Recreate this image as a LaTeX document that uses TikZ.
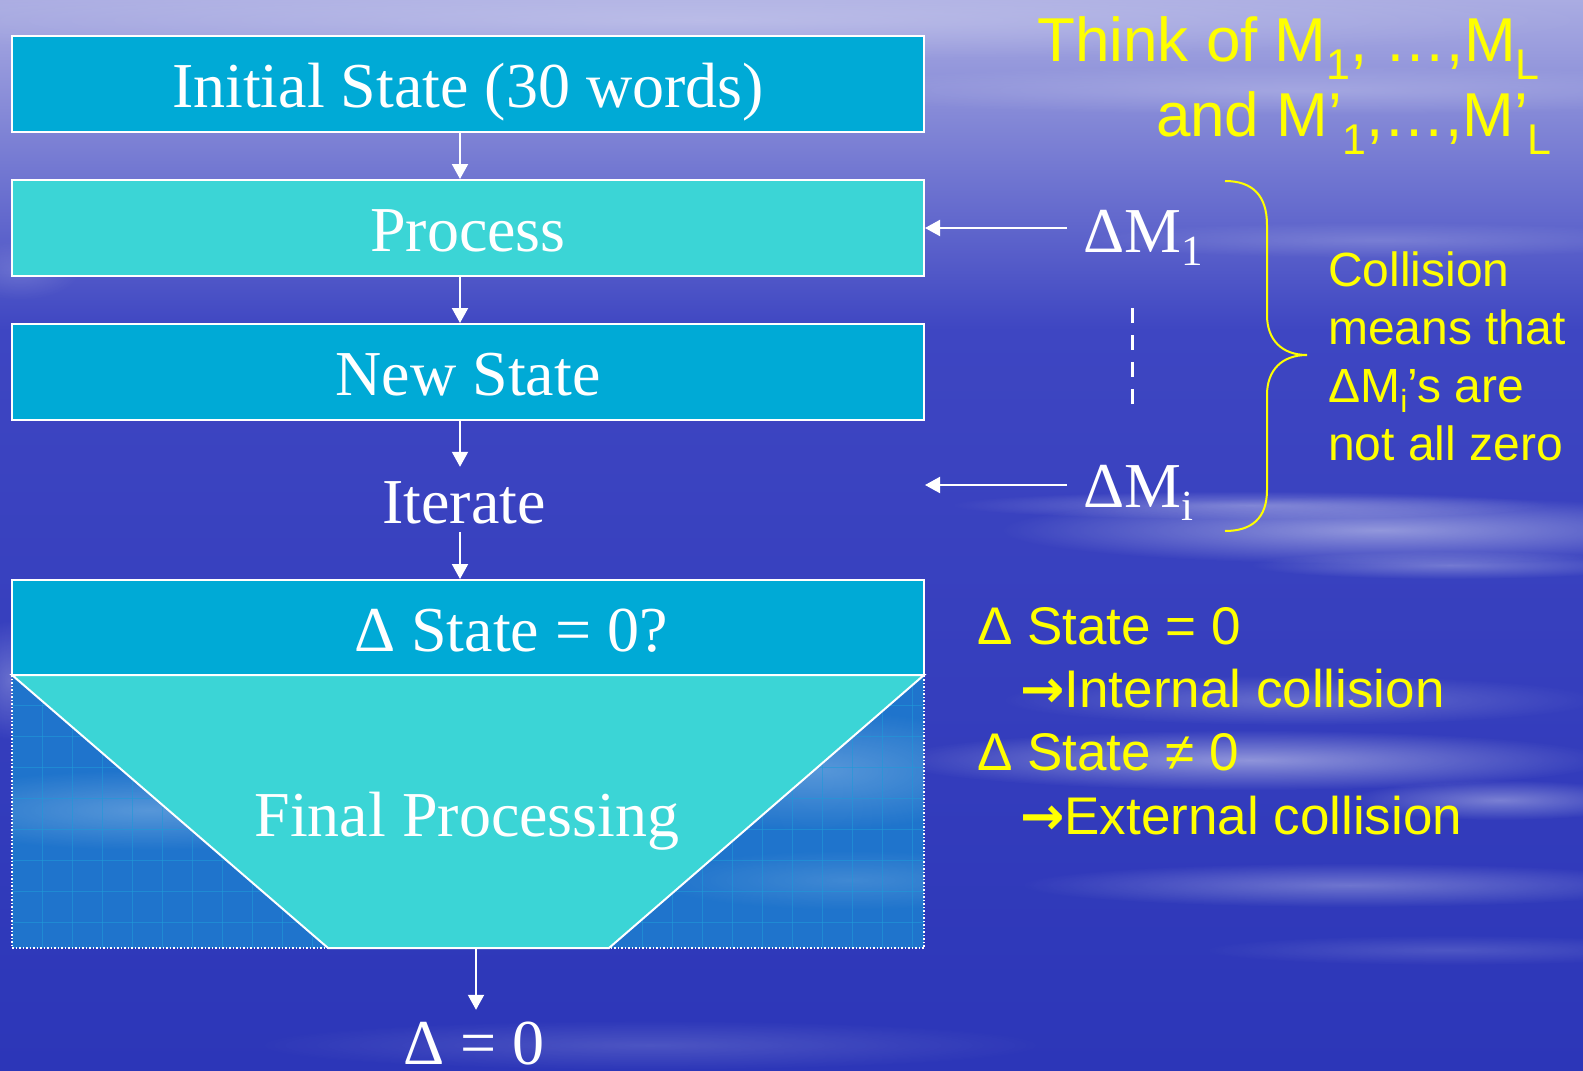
\documentclass[tikz,border=0pt]{standalone}
\usepackage{fontspec}
\setmainfont{Liberation Serif}
\newfontfamily\ysans{Liberation Sans}
\newfontfamily\dvs{DejaVu Sans Bold}
\usetikzlibrary{arrows.meta,fadings,calc}
\definecolor{bgA}{HTML}{AAACE2}
\definecolor{bgB}{HTML}{5A60CC}
\definecolor{bgC}{HTML}{3E46C2}
\definecolor{bgD}{HTML}{2C36B8}
\definecolor{boxdark}{HTML}{00AAD6}
\definecolor{boxlight}{HTML}{3BD5D6}
\definecolor{gridbg}{HTML}{1F74CC}
\definecolor{gridln}{HTML}{1F9AD8}
\definecolor{yel}{HTML}{FFFF00}
\tikzfading[name=fuzzy, inner color=transparent!0, outer color=transparent!100]
\newcommand\ssub[2]{\raisebox{-#2}{\fontsize{43}{43}\selectfont #1}}
\newcommand\csub[1]{\raisebox{-10pt}{\fontsize{32}{32}\selectfont #1}}
\tikzset{
  box/.style={draw=white, line width=2pt, minimum width=912pt, minimum height=96pt,
    inner sep=0pt, text=white, font=\fontsize{64}{64}\selectfont,
    text height=47pt, text depth=0pt},
  wtext/.style={text=white, font=\fontsize{64}{64}\selectfont, inner sep=0pt},
  arr/.style={draw=white, line width=2pt, -{Triangle[width=16pt,length=15pt]}},
  ytext/.style={text=yel, inner sep=0pt, anchor=base west},
  cloud/.style={fill=white, path fading=fuzzy}
}
\begin{document}
\begin{tikzpicture}[x=1pt,y=-1pt]
\useasboundingbox (0,0) rectangle (1583,1071);
% background
\shade[top color=bgA, bottom color=bgC] (0,0) rectangle (1583,330);
\shade[top color=bgC, bottom color=bgD] (0,329) rectangle (1583,1071);
\fill[cloud, opacity=0.25] (700,20) ellipse [x radius=900pt, y radius=40pt];
\fill[cloud, opacity=0.20] (1300,90) ellipse [x radius=500pt, y radius=25pt];
\fill[cloud, opacity=0.18] (1380,240) ellipse [x radius=300pt, y radius=18pt];
\fill[cloud, opacity=0.15] (20,270) ellipse [x radius=60pt, y radius=30pt];
\fill[cloud, opacity=0.45] (1380,530) ellipse [x radius=380pt, y radius=34pt];
\fill[cloud, opacity=0.30] (1250,505) ellipse [x radius=300pt, y radius=14pt];
\fill[cloud, opacity=0.30] (1450,565) ellipse [x radius=200pt, y radius=14pt];
\fill[cloud, opacity=0.25] (1300,700) ellipse [x radius=300pt, y radius=25pt];
\fill[cloud, opacity=0.45] (1250,760) ellipse [x radius=360pt, y radius=30pt];
\fill[cloud, opacity=0.35] (1500,800) ellipse [x radius=150pt, y radius=20pt];
\fill[cloud, opacity=0.30] (1350,885) ellipse [x radius=330pt, y radius=22pt];
\fill[cloud, opacity=0.15] (1450,950) ellipse [x radius=250pt, y radius=15pt];
\fill[cloud, opacity=0.15] (650,1045) ellipse [x radius=400pt, y radius=25pt];
\fill[cloud, opacity=0.25] (10,680) ellipse [x radius=40pt, y radius=60pt];
% grid region behind trapezoid
\begin{scope}
\clip (12,675) rectangle (924,948);
\fill[gridbg] (12,675) rectangle (924,948);
\fill[cloud, opacity=0.25] (150,810) ellipse [x radius=250pt, y radius=40pt];
\fill[cloud, opacity=0.25] (820,770) ellipse [x radius=200pt, y radius=60pt];
\fill[cloud, opacity=0.15] (850,880) ellipse [x radius=200pt, y radius=30pt];
\foreach \gx in {42,72,...,924} \draw[gridln, line width=0.7pt, opacity=0.6] (\gx,675) -- (\gx,948);
\foreach \gy in {705,736,...,948} \draw[gridln, line width=0.7pt, opacity=0.6] (12,\gy) -- (924,\gy);
\end{scope}
\draw[white, line width=1.5pt, dash pattern=on 1.5pt off 2pt] (12,675) -- (12,948) -- (924,948) -- (924,675);
% trapezoid
\filldraw[fill=boxlight, draw=white, line width=2pt] (12,675) -- (328,948) -- (609,948) -- (924,675) -- cycle;
\coordinate (tb) at (476,948);
\node[wtext, anchor=base] (fp) at (467,836) {Final Processing};
% boxes
\node[box, fill=boxdark] (b1) at (468,84) {Initial State (30 words)};
\node[box, fill=boxlight] (b2) at (468,228) {Process};
\node[box, fill=boxdark] (b3) at (468,372) {New State};
\node[wtext, anchor=base, text height=47pt, text depth=0pt, inner ysep=9pt] (it) at (464,523) {Iterate};
\node[box, fill=boxdark, minimum height=95pt] (b4) at (468,627.5) {};
\node[wtext, anchor=base] (q) at (511,651) {Δ State = 0?};
\node[wtext, anchor=base, text height=47pt, text depth=0pt] (d0) at (474,1064) {Δ = 0};
% vertical arrows
\draw[arr] ([xshift=-8pt]b1.south) -- ([xshift=-8pt]b2.north);
\draw[arr] ([xshift=-8pt]b2.south) -- ([xshift=-8pt]b3.north);
\draw[arr] ([xshift=-8pt]b3.south) -- ([xshift=-8pt]b3.south |- it.north);
\draw[arr] ([xshift=-4pt]it.south) -- ([xshift=-4pt]it.south |- b4.north);
\draw[arr] (tb) -- ([yshift=7pt]tb |- d0.north);
% delta M inputs
\node[wtext, anchor=base west] (dm1) at (1083,252) {ΔM\ssub{1}{13pt}};
\node[wtext, anchor=base west] (dmi) at (1083,507) {ΔM\ssub{i}{13pt}};
\draw[arr] ([xshift=-16pt]dm1.west |- b2.east) -- (b2.east);
\coordinate (ai) at (925,485);
\draw[arr] (dmi.west |- ai) ++(-16,0) -- (ai);
\draw[white, line width=3pt, dash pattern=on 15pt off 12pt] (1132,308) -- (1132,404);
% brace
\draw[yel, line width=2pt] (1225,181) .. controls (1252,181) and (1267,195) .. (1267,225)
  -- (1267,315) .. controls (1267,340) and (1282,355) .. (1307,355)
  .. controls (1282,355) and (1267,370) .. (1267,395)
  -- (1267,490) .. controls (1267,518) and (1252,531) .. (1225,531);
% yellow texts
\begin{scope}[every node/.style={ytext}]
\node[anchor=base east, font=\ysans\fontsize{62}{62}\selectfont] (t1) at (1540,61) {Think of M\ssub{1}{18pt}, …,M\ssub{L}{18pt}};
\node[anchor=base east, font=\ysans\fontsize{62}{62}\selectfont] (t2) at (1552,136) {and M’\ssub{1}{18pt},…,M’\ssub{L}{18pt}};
\node[font=\ysans\fontsize{48}{48}\selectfont] (c1) at (1328,286) {Collision};
\node[font=\ysans\fontsize{48}{48}\selectfont] (c2) at (1328,344) {means that};
\node[font=\ysans\fontsize{48}{48}\selectfont] (c3) at (1328,402) {ΔM\csub{i}’s are};
\node[font=\ysans\fontsize{48}{48}\selectfont] (c4) at (1328,460) {not all zero};
\node[font=\ysans\fontsize{53}{53}\selectfont] (s1) at (977,644) {Δ State = 0};
\node[font=\ysans\fontsize{53}{53}\selectfont] (s2) at (1020,707) {{\dvs →}Internal collision};
\node[font=\ysans\fontsize{53}{53}\selectfont] (s3) at (977,770) {Δ State ≠ 0};
\node[font=\ysans\fontsize{53}{53}\selectfont] (s4) at (1020,834) {{\dvs →}External collision};
\end{scope}
\end{tikzpicture}
\end{document}
